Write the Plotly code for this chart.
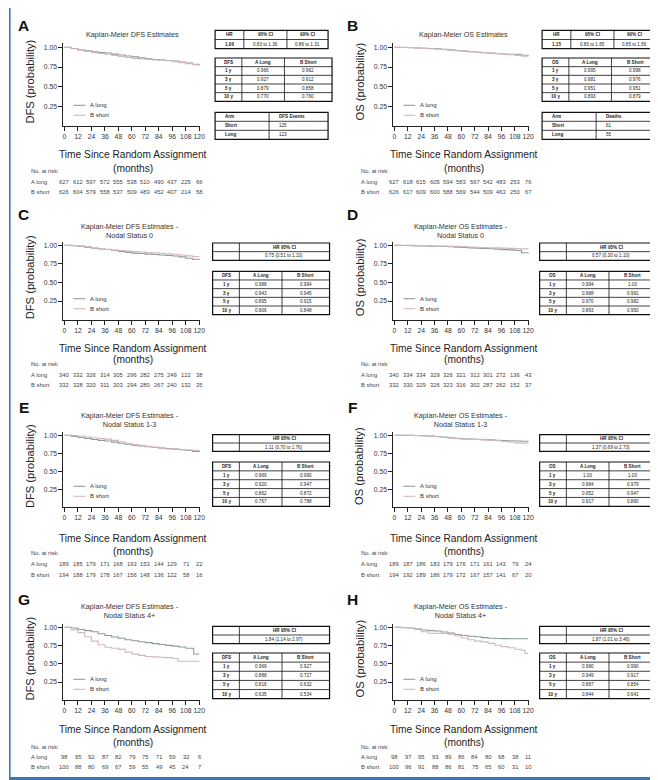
import plotly.graph_objects as go

W, H = 658, 780
FONT = "Liberation Sans, Arial, Helvetica, sans-serif"
NARROW = "Liberation Sans, Arial, Helvetica, sans-serif"

# ---------------- data ----------------
months = [0, 6, 12, 18, 24, 30, 36, 42, 48, 54, 60, 66, 72, 78, 84, 90, 96, 102, 108, 114, 120]
risk_months = [0, 12, 24, 36, 48, 60, 72, 84, 96, 108, 120]
y_ticks = [0.25, 0.50, 0.75, 1.00]
y_tick_text = ["0.25", "0.50", "0.75", "1.00"]
arm_names = ["A long", "B short"]

# Kaplan-Meier estimates
dfs_all_long = [1.000, 0.985, 0.966, 0.955, 0.944, 0.935, 0.927, 0.913, 0.902, 0.890, 0.879, 0.866, 0.853, 0.846, 0.840, 0.833, 0.826, 0.813, 0.800, 0.785, 0.772]
dfs_all_short = [1.000, 0.982, 0.962, 0.946, 0.933, 0.922, 0.912, 0.898, 0.884, 0.870, 0.858, 0.851, 0.845, 0.840, 0.836, 0.829, 0.818, 0.806, 0.792, 0.779, 0.768]
os_all_long = [1.000, 0.998, 0.995, 0.991, 0.988, 0.985, 0.981, 0.975, 0.968, 0.960, 0.951, 0.945, 0.938, 0.932, 0.926, 0.920, 0.915, 0.912, 0.912, 0.900, 0.893]
os_all_short = [1.000, 0.999, 0.998, 0.993, 0.986, 0.981, 0.976, 0.970, 0.963, 0.957, 0.951, 0.945, 0.939, 0.933, 0.927, 0.921, 0.914, 0.906, 0.897, 0.888, 0.879]
dfs_n0_long = [1.000, 0.995, 0.988, 0.975, 0.960, 0.950, 0.943, 0.930, 0.918, 0.905, 0.895, 0.889, 0.882, 0.876, 0.870, 0.864, 0.857, 0.845, 0.825, 0.812, 0.806]
dfs_n0_short = [1.000, 0.997, 0.994, 0.983, 0.966, 0.952, 0.945, 0.937, 0.930, 0.922, 0.915, 0.909, 0.903, 0.898, 0.893, 0.887, 0.880, 0.870, 0.858, 0.850, 0.848]
os_n0_long = [1.000, 0.997, 0.994, 0.992, 0.990, 0.989, 0.988, 0.985, 0.980, 0.975, 0.970, 0.966, 0.962, 0.958, 0.953, 0.948, 0.942, 0.938, 0.930, 0.900, 0.893]
os_n0_short = [1.000, 1.000, 1.000, 0.997, 0.994, 0.992, 0.991, 0.989, 0.987, 0.985, 0.982, 0.978, 0.974, 0.971, 0.968, 0.965, 0.962, 0.958, 0.955, 0.952, 0.950]
dfs_n13_long = [1.000, 0.985, 0.969, 0.955, 0.942, 0.930, 0.920, 0.905, 0.890, 0.875, 0.862, 0.852, 0.842, 0.832, 0.822, 0.815, 0.808, 0.800, 0.790, 0.775, 0.767]
dfs_n13_short = [1.000, 0.995, 0.990, 0.975, 0.962, 0.955, 0.947, 0.930, 0.910, 0.890, 0.872, 0.860, 0.848, 0.835, 0.822, 0.814, 0.806, 0.800, 0.795, 0.790, 0.788]
os_n13_long = [1.000, 1.000, 1.000, 0.997, 0.993, 0.988, 0.984, 0.975, 0.965, 0.958, 0.952, 0.948, 0.944, 0.940, 0.936, 0.932, 0.928, 0.924, 0.920, 0.918, 0.917]
os_n13_short = [1.000, 1.000, 1.000, 0.996, 0.990, 0.985, 0.979, 0.970, 0.960, 0.952, 0.947, 0.944, 0.941, 0.937, 0.932, 0.925, 0.915, 0.903, 0.895, 0.891, 0.890]
dfs_n4_long_t = [0, 6, 12, 18, 24, 30, 36, 42, 48, 54, 60, 66, 72, 78, 84, 90, 96, 102, 108, 115, 120]
dfs_n4_long = [1.000, 0.990, 0.969, 0.955, 0.940, 0.912, 0.888, 0.868, 0.850, 0.830, 0.816, 0.803, 0.790, 0.776, 0.765, 0.752, 0.742, 0.730, 0.712, 0.635, 0.635]
dfs_n4_short_t = [0, 6, 12, 18, 24, 30, 36, 42, 48, 54, 60, 66, 72, 78, 84, 90, 96, 101, 120]
dfs_n4_short = [1.000, 0.965, 0.927, 0.870, 0.810, 0.760, 0.727, 0.712, 0.697, 0.660, 0.632, 0.615, 0.600, 0.595, 0.590, 0.585, 0.572, 0.534, 0.534]
os_n4_long = [1.000, 0.995, 0.990, 0.975, 0.962, 0.955, 0.949, 0.935, 0.920, 0.902, 0.887, 0.878, 0.870, 0.858, 0.850, 0.846, 0.845, 0.844, 0.844, 0.844, 0.844]
os_n4_short_t = [0, 6, 12, 18, 24, 30, 36, 42, 48, 54, 60, 66, 72, 78, 84, 90, 96, 102, 108, 114, 117, 120]
os_n4_short = [1.000, 0.998, 0.990, 0.980, 0.940, 0.918, 0.917, 0.915, 0.905, 0.880, 0.854, 0.830, 0.810, 0.800, 0.780, 0.755, 0.735, 0.720, 0.700, 0.685, 0.641, 0.641]

# numbers at risk
risk_dfs_all_long = [627, 612, 597, 572, 555, 538, 510, 490, 437, 225, 66]
risk_dfs_all_short = [626, 604, 579, 558, 537, 509, 483, 452, 407, 214, 58]
risk_os_all_long = [627, 618, 615, 605, 594, 583, 567, 542, 483, 253, 76]
risk_os_all_short = [626, 617, 609, 600, 588, 569, 544, 509, 463, 250, 67]
risk_dfs_n0_long = [340, 332, 326, 314, 305, 296, 282, 275, 249, 122, 38]
risk_dfs_n0_short = [332, 328, 320, 311, 303, 294, 280, 267, 240, 132, 35]
risk_os_n0_long = [340, 334, 334, 329, 326, 321, 312, 301, 272, 136, 43]
risk_os_n0_short = [332, 330, 329, 326, 323, 316, 302, 287, 262, 152, 37]
risk_dfs_n13_long = [189, 185, 179, 171, 168, 163, 153, 144, 129, 71, 22]
risk_dfs_n13_short = [194, 188, 179, 178, 167, 156, 148, 136, 122, 58, 16]
risk_os_n13_long = [189, 187, 186, 183, 179, 176, 171, 161, 143, 79, 24]
risk_os_n13_short = [194, 192, 189, 186, 179, 172, 167, 157, 141, 67, 20]
risk_dfs_n4_long = [98, 95, 92, 87, 82, 79, 75, 71, 59, 32, 6]
risk_dfs_n4_short = [100, 88, 80, 69, 67, 59, 55, 49, 45, 24, 7]
risk_os_n4_long = [98, 97, 95, 93, 89, 86, 84, 80, 68, 38, 11]
risk_os_n4_short = [100, 96, 91, 88, 86, 81, 75, 65, 60, 31, 10]

# table contents
hr_header = ["HR", "95% CI", "90% CI"]
hr_dfs_all = ["1.06", "0.83 to 1.36", "0.86 to 1.31"]
hr_os_all = ["1.15", "0.80 to 1.65", "0.85 to 1.56"]
hr_sub_header = ["", "HR 95% CI"]
hr_dfs_n0 = "0.75 (0.51 to 1.10)"
hr_os_n0 = "0.57 (0.30 to 1.10)"
hr_dfs_n13 = "1.11 (0.70 to 1.76)"
hr_os_n13 = "1.37 (0.69 to 2.73)"
hr_dfs_n4 = "1.84 (1.14 to 2.97)"
hr_os_n4 = "1.87 (1.01 to 3.46)"
est_years = ["1 y", "3 y", "5 y", "10 y"]
est_arms = ["A Long", "B Short"]
est_dfs_all = (["0.966", "0.927", "0.879", "0.770"], ["0.962", "0.912", "0.858", "0.760"])
est_os_all = (["0.995", "0.981", "0.951", "0.893"], ["0.998", "0.976", "0.951", "0.879"])
est_dfs_n0 = (["0.988", "0.943", "0.895", "0.806"], ["0.994", "0.945", "0.915", "0.848"])
est_os_n0 = (["0.994", "0.988", "0.970", "0.893"], ["1.00", "0.991", "0.982", "0.950"])
est_dfs_n13 = (["0.969", "0.920", "0.862", "0.767"], ["0.990", "0.947", "0.872", "0.788"])
est_os_n13 = (["1.00", "0.984", "0.952", "0.917"], ["1.00", "0.979", "0.947", "0.890"])
est_dfs_n4 = (["0.969", "0.888", "0.816", "0.635"], ["0.927", "0.727", "0.632", "0.534"])
est_os_n4 = (["0.990", "0.949", "0.887", "0.844"], ["0.990", "0.917", "0.854", "0.641"])
event_arms = ["Short", "Long"]
dfs_events = ["125", "123"]
os_deaths = ["61", "55"]

# ---------------- layout geometry (pixels) ----------------
COLS = [dict(t0=56, t120=192, letter_x=15, ytitle_x=21, label_x=20, title_cx=122, xt_cx=125, tab_x=205.5),
        dict(t0=389, t120=524, letter_x=347, ytitle_x=354, label_x=353, title_cx=456, xt_cx=459, tab_x=535.5)]
ROWS = [dict(y1=39.3, y0=118.3, letter_y=17.5, title_y=27, xt=(146.5, 161), risk=(163.3, 174, 184),
             tabs=[(22.3, 40.7), (50, 93.3), (104.3, 131.3)]),
        dict(y1=237.3, y0=311.7, letter_y=207, title_y=222.5, xt=(340, 351.5), risk=(356, 366.5, 377),
             tabs=[(235, 252.3), (263.3, 306.7)]),
        dict(y1=427.3, y0=499.3, letter_y=400, title_y=412, xt=(530, 543.5), risk=(545.3, 555.7, 566.7),
             tabs=[(426.7, 443.3), (454, 498.3)]),
        dict(y1=619.3, y0=692.3, letter_y=591, title_y=603, xt=(721, 734.5), risk=(739, 749, 758.7),
             tabs=[(618.3, 635.7), (645, 690.7)])]

COL_LONG = "#8e9d9a"
COL_SHORT = "#d3b8be"


def est_rows(kind, est):
    rows = [[kind] + est_arms]
    for i, yr in enumerate(est_years):
        rows.append([yr, est[0][i], est[1][i]])
    return rows


panels = [
    dict(letter="A", title="Kaplan-Meier DFS Estimates", ylab="DFS (probability)",
         long=(months, dfs_all_long), short=(months, dfs_all_short),
         risk=(risk_dfs_all_long, risk_dfs_all_short),
         tables=[("hr3", [hr_header, hr_dfs_all]), ("est", est_rows("DFS", est_dfs_all)),
                 ("ev", [["Arm", "DFS Events"]] + [[a, e] for a, e in zip(event_arms, dfs_events)])]),
    dict(letter="B", title="Kaplan-Meier OS Estimates", ylab="OS (probability)",
         long=(months, os_all_long), short=(months, os_all_short),
         risk=(risk_os_all_long, risk_os_all_short),
         tables=[("hr3", [hr_header, hr_os_all]), ("est", est_rows("OS", est_os_all)),
                 ("ev", [["Arm", "Deaths"]] + [[a, e] for a, e in zip(event_arms, os_deaths)])]),
    dict(letter="C", title="Kaplan-Meier DFS Estimates -<br>Nodal Status 0", ylab="DFS (probability)",
         long=(months, dfs_n0_long), short=(months, dfs_n0_short),
         risk=(risk_dfs_n0_long, risk_dfs_n0_short),
         tables=[("hr2", [hr_sub_header, ["", hr_dfs_n0]]), ("est", est_rows("DFS", est_dfs_n0))]),
    dict(letter="D", title="Kaplan-Meier OS Estimates -<br>Nodal Status 0", ylab="OS (probability)",
         long=(months, os_n0_long), short=(months, os_n0_short),
         risk=(risk_os_n0_long, risk_os_n0_short),
         tables=[("hr2", [hr_sub_header, ["", hr_os_n0]]), ("est", est_rows("OS", est_os_n0))]),
    dict(letter="E", title="Kaplan-Meier DFS Estimates -<br>Nodal Status 1-3", ylab="DFS (probability)",
         long=(months, dfs_n13_long), short=(months, dfs_n13_short),
         risk=(risk_dfs_n13_long, risk_dfs_n13_short),
         tables=[("hr2", [hr_sub_header, ["", hr_dfs_n13]]), ("est", est_rows("DFS", est_dfs_n13))]),
    dict(letter="F", title="Kaplan-Meier OS Estimates -<br>Nodal Status 1-3", ylab="OS (probability)",
         long=(months, os_n13_long), short=(months, os_n13_short),
         risk=(risk_os_n13_long, risk_os_n13_short),
         tables=[("hr2", [hr_sub_header, ["", hr_os_n13]]), ("est", est_rows("OS", est_os_n13))]),
    dict(letter="G", title="Kaplan-Meier DFS Estimates -<br>Nodal Status 4+", ylab="DFS (probability)",
         long=(dfs_n4_long_t, dfs_n4_long), short=(dfs_n4_short_t, dfs_n4_short),
         risk=(risk_dfs_n4_long, risk_dfs_n4_short),
         tables=[("hr2", [hr_sub_header, ["", hr_dfs_n4]]), ("est", est_rows("DFS", est_dfs_n4))]),
    dict(letter="H", title="Kaplan-Meier OS Estimates -<br>Nodal Status 4+", ylab="OS (probability)",
         long=(months, os_n4_long), short=(os_n4_short_t, os_n4_short),
         risk=(risk_os_n4_long, risk_os_n4_short),
         tables=[("hr2", [hr_sub_header, ["", hr_os_n4]]), ("est", est_rows("OS", est_os_n4))]),
]

TABLE_EDGES = {"hr3": [0, 29, 72.5, 114], "est": [0, 27, 70, 118], "ev": [0, 54.5, 114], "hr2": [0, 27, 118]}


def PX(x):
    return x / W


def PY(y):
    return 1 - y / H


fig = go.Figure()
annotations = []
shapes = []


def ann(x, y, text, size, xanchor="center", yanchor="middle", family=FONT, color="#333", angle=0,
        xref="paper"):
    annotations.append(dict(x=x if xref != "paper" else PX(x), y=PY(y), xref=xref, yref="paper",
                            text=text, showarrow=False, xanchor=xanchor, yanchor=yanchor,
                            textangle=angle, font=dict(size=size, family=family, color=color)))


def line(x0, y0, x1, y1, width=0.8, color="#111"):
    shapes.append(dict(type="line", xref="paper", yref="paper", x0=PX(x0), y0=PY(y0), x1=PX(x1),
                       y1=PY(y1), line=dict(color=color, width=width), layer="above"))


def draw_table(kind, rows, left, top, bottom):
    edges = [left + e for e in TABLE_EDGES[kind]]
    n = len(rows)
    rh = (bottom - top) / n
    shapes.append(dict(type="rect", xref="paper", yref="paper", x0=PX(edges[0]), x1=PX(edges[-1]),
                       y0=PY(bottom), y1=PY(top), line=dict(color="#111", width=1.2), layer="above"))
    for r in range(1, n):
        line(edges[0], top + r * rh, edges[-1], top + r * rh)
    for e in edges[1:-1]:
        line(e, top, e, bottom)
    for r, row in enumerate(rows):
        yc = top + (r + 0.5) * rh
        for c, txt in enumerate(row):
            if txt == "":
                continue
            bold = (r == 0) or (c == 0)
            t = "<b>%s</b>" % txt if bold else txt
            if kind == "ev":
                ann(edges[c] + 8, yc, t, 4.6, xanchor="left", color="#222")
            else:
                ann((edges[c] + edges[c + 1]) / 2, yc, t, 4.6, color="#222")


for i, p in enumerate(panels):
    n = i + 1
    col = COLS[i % 2]
    row = ROWS[i // 2]
    xa = "x" if n == 1 else "x%d" % n
    ya = "y" if n == 1 else "y%d" % n
    for (t, s), color, name in zip([p["long"], p["short"]], [COL_LONG, COL_SHORT], arm_names):
        fig.add_trace(go.Scatter(x=t, y=s, mode="lines", name=name, showlegend=False,
                                 line=dict(shape="hv", color=color, width=1.1),
                                 xaxis=xa, yaxis=ya, hoverinfo="skip"))
    t0, t120 = col["t0"], col["t120"]
    ppm = (t120 - t0) / 120.0
    xl, xr = t0 - 1 * ppm, t0 + 121 * ppm
    y1, y0 = row["y1"], row["y0"]
    unit = y0 - y1
    ytop = y0 - 1.05 * unit
    common = dict(showgrid=False, zeroline=False, showline=True, linecolor="#222", linewidth=1,
                  ticks="outside", ticklen=4, tickwidth=1, tickcolor="#222", tickangle=0,
                  tickfont=dict(size=6.8, color="#333", family=FONT), fixedrange=True)
    fig.update_layout(**{
        ("xaxis" if n == 1 else "xaxis%d" % n): dict(domain=[PX(xl), PX(xr)], range=[-1, 121],
                                                    anchor=ya, tickvals=risk_months,
                                                    ticktext=[str(m) for m in risk_months], **common),
        ("yaxis" if n == 1 else "yaxis%d" % n): dict(domain=[PY(y0), PY(ytop)], range=[0, 1.05],
                                                    anchor=xa, tickvals=y_ticks, ticktext=y_tick_text,
                                                    **common),
    })
    # panel letter and titles
    ann(col["letter_x"], row["letter_y"], "<b>%s</b>" % p["letter"], 15.5, color="#111")
    tcx = col["title_cx"] + (3 if i < 2 else 0)
    ann(tcx, row["title_y"], p["title"], 7.2)
    ann(col["ytitle_x"], (y1 + y0) / 2 - 5, p["ylab"], 11.2, family=NARROW, angle=-90, color="#222")
    ann(col["xt_cx"], row["xt"][0], "Time Since Random Assignment", 10.2, family=NARROW, color="#222")
    ann(col["xt_cx"], row["xt"][1], "(months)", 10.2, family=NARROW, color="#222")
    # legend (inside plot)
    ly = y0 - 21
    for k, (name, color) in enumerate(zip(arm_names, [COL_LONG, COL_SHORT])):
        yy = ly + 10 * k
        line(t0 + 9, yy, t0 + 21, yy, width=1.1, color=color)
        ann(t0 + 24, yy, name, 6, xanchor="left")
    # numbers at risk
    ann(col["label_x"], row["risk"][0], "No. at risk:", 5.8, xanchor="left", color="#444")
    for k, (name, vals) in enumerate(zip(arm_names, p["risk"])):
        yy = row["risk"][k + 1]
        ann(col["label_x"], yy, name, 5.8, xanchor="left", color="#444")
        for m, v in zip(risk_months, vals):
            ann(m, yy, str(v), 5.8, xref=xa, color="#444")
    # tables
    for (kind, rows), (top, bottom) in zip(p["tables"], row["tabs"]):
        left = col["tab_x"] + (2.5 if i < 2 else 0)
        draw_table(kind, rows, left, top, bottom)

# blue page frame
FRAME = "#3b78b0"
shapes.append(dict(type="rect", xref="paper", yref="paper", x0=0, x1=1, y0=0, y1=PY(769),
                   fillcolor=FRAME, line=dict(width=0), layer="above"))
line(0.8, 0, 0.8, 769, width=1.6, color=FRAME)
line(656.8, 0, 656.8, 769, width=1.6, color=FRAME)

fig.update_layout(width=W, height=H, autosize=False, margin=dict(l=0, r=0, t=0, b=0),
                  paper_bgcolor="white", plot_bgcolor="white", showlegend=False,
                  annotations=annotations, shapes=shapes, font=dict(family=FONT))

fig.write_html("out.html")
